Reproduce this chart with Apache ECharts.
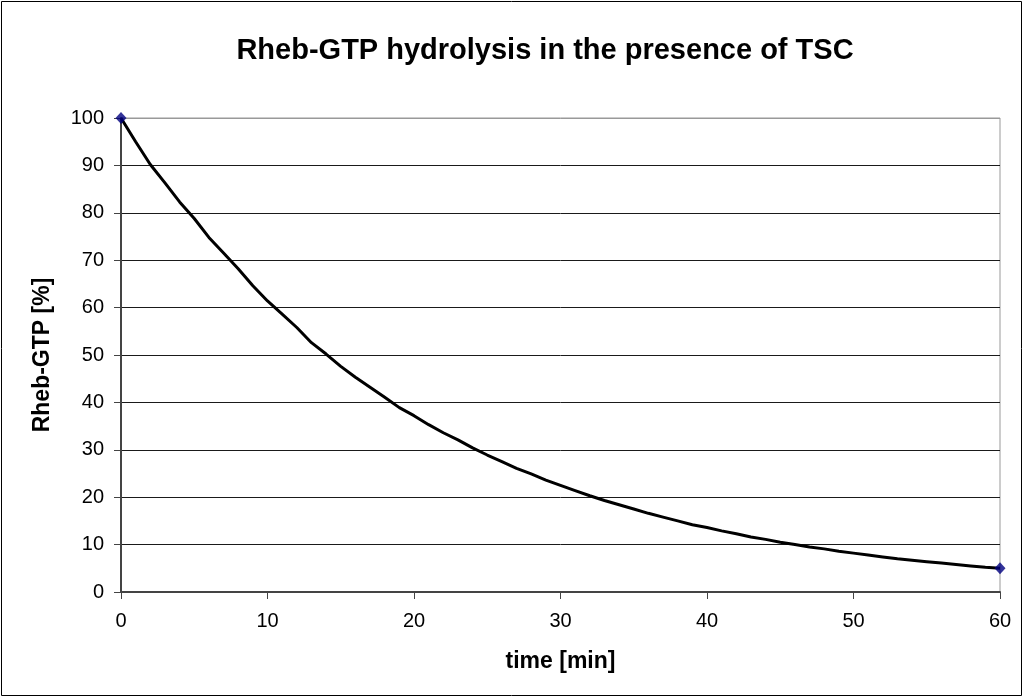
<!DOCTYPE html>
<html>
<head>
<meta charset="utf-8">
<script src="https://cdn.jsdelivr.net/npm/echarts@6/dist/echarts.min.js"></script>
<style>html,body{margin:0;padding:0;background:#fff;}#c{width:1024px;height:698px;}</style>
</head>
<body>
<div id="c"></div>
<script>
// time points [min]
const timeMin = [0,1,2,3,4,5,6,7,8,9,10,11,12,13,14,15,16,17,18,19,20,21,22,23,24,25,26,27,28,29,30,31,32,33,34,35,36,37,38,39,40,41,42,43,44,45,46,47,48,49,50,51,52,53,54,55,56,57,58,59,60];
// Rheb-GTP remaining [%]
const rhebGTP = [100,95.0,90.2,86.3,82.3,78.8,74.8,71.5,68.2,64.6,61.4,58.6,55.8,52.6,50.2,47.6,45.3,43.2,41.1,38.9,37.2,35.3,33.6,32.1,30.4,28.9,27.5,26.1,24.9,23.6,22.5,21.4,20.3,19.3,18.4,17.5,16.6,15.8,15.0,14.2,13.6,12.9,12.3,11.6,11.1,10.5,10.0,9.5,9.1,8.6,8.2,7.8,7.4,7.0,6.7,6.4,6.1,5.8,5.5,5.2,5.0];
const xTicks = [0,10,20,30,40,50,60];
const yTicks = [0,10,20,30,40,50,60,70,80,90,100];

const titleText = 'Rheb-GTP hydrolysis in the presence of TSC';
const xName = 'time [min]';
const yName = 'Rheb-GTP [%]';

const lineData = timeMin.map((t,i)=>[t, rhebGTP[i]]);
const last = timeMin.length-1;
const markerData = [[timeMin[0], rhebGTP[0]], [timeMin[last], rhebGTP[last]]];

const splitColors = yTicks.map((v,i)=> i===yTicks.length-1 ? '#999' : '#1a1a1a');
const FONT = 'Liberation Sans, Arial, sans-serif';

const chart = echarts.init(document.getElementById('c'), null, {renderer:'canvas'});
chart.setOption({
  animation:false,
  backgroundColor:'#fff',
  title:{
    text:titleText, left:540, top:31, textAlign:'center',
    textStyle:{fontFamily:FONT, fontSize:29, fontWeight:'bold', color:'#000'}
  },
  graphic:[{type:'rect', shape:{x:1.5,y:1.5,width:1020,height:694}, style:{fill:null, stroke:'#000', lineWidth:1}, silent:true, z:100}],
  grid:{left:121, right:24, top:118, bottom:106, show:true, borderColor:'#999', borderWidth:1, backgroundColor:'#fff'},
  xAxis:{
    type:'value', min:xTicks[0], max:xTicks[xTicks.length-1], interval:10,
    name:xName, nameLocation:'middle', nameGap:58,
    nameTextStyle:{fontFamily:FONT, fontSize:23, fontWeight:'bold', color:'#000'},
    axisLine:{show:true, onZero:false, lineStyle:{color:'#444', width:2}},
    axisTick:{show:true, length:7, inside:false, lineStyle:{color:'#444', width:1}},
    axisLabel:{margin:19, fontFamily:FONT, fontSize:20, color:'#000'},
    splitLine:{show:false}
  },
  yAxis:{
    type:'value', min:yTicks[0], max:yTicks[yTicks.length-1], interval:10,
    name:yName, nameLocation:'middle', nameGap:67,
    nameTextStyle:{fontFamily:FONT, fontSize:23, fontWeight:'bold', color:'#000'},
    axisLine:{show:true, onZero:false, lineStyle:{color:'#444', width:2}},
    axisTick:{show:true, length:7, inside:false, lineStyle:{color:'#444', width:1}},
    axisLabel:{margin:17, fontFamily:FONT, fontSize:20, color:'#000'},
    splitLine:{show:true, lineStyle:{color:splitColors, width:1}}
  },
  series:[
    {type:'line', data:lineData, showSymbol:false, symbol:'none', smooth:false,
     lineStyle:{color:'#000', width:3}, z:3},
    {type:'scatter', data:markerData, symbol:'diamond', symbolSize:[11,12],
     itemStyle:{color:'#000080'}, z:4}
  ]
});
</script>
</body>
</html>
